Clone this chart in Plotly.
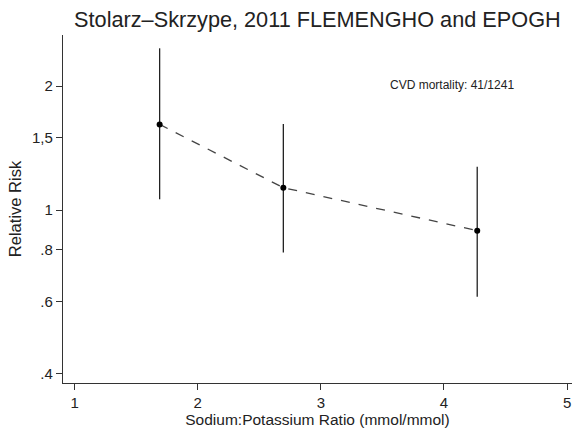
import math
import plotly.graph_objects as go

ratio = [1.69, 2.695, 4.27]
rr = [1.614, 1.133, 0.891]
ci_low = [1.062, 0.789, 0.616]
ci_high = [2.47, 1.617, 1.274]
y_tickvals = [0.4, 0.6, 0.8, 1, 1.5, 2]
y_ticktext = [".4", ".6", ".8", "1", "1,5", "2"]
x_tickvals = [1, 2, 3, 4, 5]

font = "Liberation Sans, Arial, Helvetica, sans-serif"

fig = go.Figure()
fig.add_trace(go.Scatter(
    x=ratio, y=rr, mode="lines+markers",
    line=dict(color="#444444", width=1.3, dash="dash"),
    marker=dict(color="black", size=6),
    error_y=dict(type="data", symmetric=False,
                 array=[h - r for h, r in zip(ci_high, rr)],
                 arrayminus=[r - l for r, l in zip(rr, ci_low)],
                 color="#222222", thickness=1.3, width=0),
    showlegend=False,
))

fig.add_annotation(x=3.545, y=math.log10(2.01), xref="x", yref="y", text="CVD mortality: 41/1241",
                   showarrow=False, xanchor="left", yanchor="middle",
                   font=dict(size=12, color="#222222", family=font))

fig.update_layout(
    width=575, height=431,
    margin=dict(l=63, r=3, t=35, b=48),
    paper_bgcolor="white", plot_bgcolor="white",
    title=dict(text="Stolarz\u2013Skrzype, 2011 FLEMENGHO and EPOGH", x=0.552, xanchor="center",
               y=1 - 19 / 431, yanchor="middle", font=dict(size=21.7, color="#222222", family=font)),
    font=dict(family=font, color="#222222"),
)
fig.update_xaxes(range=[0.905, 5.04], tickvals=x_tickvals, showgrid=False, zeroline=False,
                 automargin=False, ticklabeloverflow="allow",
                 showline=True, linecolor="#333333", linewidth=1.3,
                 ticks="outside", ticklen=6, tickcolor="#333333", tickwidth=1.2,
                 tickfont=dict(size=15), title=dict(text="Sodium:Potassium Ratio (mmol/mmol)",
                 font=dict(size=15.5), standoff=2))
fig.update_yaxes(type="log", range=[-0.420, 0.425], tickvals=y_tickvals, ticktext=y_ticktext,
                 automargin=False,
                 showgrid=False, zeroline=False, showline=True, linecolor="#333333", linewidth=1.3,
                 ticks="outside", ticklen=6, tickcolor="#333333", tickwidth=1.2,
                 tickfont=dict(size=15), title=dict(text="Relative Risk", font=dict(size=16.5), standoff=6))

fig.write_html("out.html", config={"displayModeBar": False},
               post_script="document.body.style.margin='0';document.body.style.overflow='hidden';")
